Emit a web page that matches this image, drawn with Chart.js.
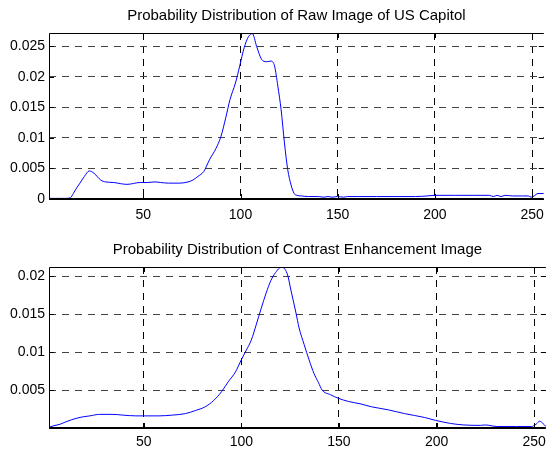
<!DOCTYPE html>
<html>
<head>
<meta charset="utf-8">
<script src="https://cdn.jsdelivr.net/npm/chart.js@4.4.1/dist/chart.umd.min.js"></script>
<style>
  html, body { margin: 0; padding: 0; background: #fff; overflow: hidden; }
  .panel { position: absolute; left: 0; width: 550px; overflow: hidden; }
  #p1 { top: 0; height: 225px; }
  #p2 { top: 225px; height: 224px; }
</style>
</head>
<body>
<div class="panel" id="p1"><canvas id="c1" width="552" height="225"></canvas></div>
<div class="panel" id="p2"><canvas id="c2" width="552" height="224"></canvas></div>
<script>
// ---- Data ----
const titleTop = "Probability Distribution of Raw Image of US Capitol";
const titleBottom = "Probability Distribution of Contrast Enhancement Image";

const xTicks = [50, 100, 150, 200, 250];
const yTicksTop = [0, 0.005, 0.01, 0.015, 0.02, 0.025];
const yTickLabelsTop = ["0", "0.005", "0.01", "0.015", "0.02", "0.025"];
const yTicksBottom = [0.005, 0.01, 0.015, 0.02];
const yTickLabelsBottom = ["0.005", "0.01", "0.015", "0.02"];

const rawX = [1.5,5,10,12.5,14,15.7,17.2,19.7,22.2,24.7,28.1,30.6,34.8,41.6,48.4,52,56,59,62.9,68.8,
  73,75.5,78.1,81.1,84,87.4,89.9,92.4,94.6,97.4,99.6,101.9,104.1,106.1,108.3,110.8,113.3,115.8,117.5,119.2,
  120.9,122.6,124.3,126,127.6,129,131.3,135,140,143,145,147,150,153,155,160,170,180,190,196,
  200,210,220,228,230,232,234,236,240,245,248,249.5,251,253,256];
const rawY = [0.0001,0.0001,0.0001,0.0002,0.0009,0.0018,0.0025,0.0037,0.0046,0.0042,0.0031,0.0028,0.0027,0.0024,0.0027,0.0027,0.0028,0.0027,0.0026,0.0026,
  0.0028,0.0031,0.0037,0.0045,0.0064,0.0083,0.0102,0.0133,0.0163,0.019,0.0218,0.0248,0.0266,0.0271,0.025,0.0229,0.0225,0.0226,0.0218,0.0185,
  0.0146,0.0092,0.0048,0.0023,0.0009,0.0006,0.0005,0.0004,0.0004,0.0003,0.0004,0.0003,0.0004,0.0003,0.0004,0.0004,0.0004,0.0004,0.0004,0.0005,
  0.0006,0.0006,0.0006,0.0006,0.0004,0.0006,0.0004,0.0006,0.0005,0.0005,0.0005,0.0003,0.0005,0.0009,0.0009];

const encX = [1.5,4,7.2,10,13.2,17.4,22.4,27.5,34.2,39.3,46,51,57.9,64.6,71.4,76.4,81.5,85.7,89.9,93.3,
  97,100,102.6,105.1,107.6,110.2,112.7,115.2,117.5,119.5,121,123.7,125.4,127.9,129.6,132.2,134.7,137.2,139.5,141.4,
  145.6,149.9,154.9,160.8,166.7,175.2,183.6,193.7,199.6,207.2,214,222.4,225,230.9,241,248.6,251,252.8,254.5,256];
const encY = [0.0001,0.0003,0.0005,0.0008,0.0011,0.0014,0.0016,0.0018,0.0018,0.0017,0.0016,0.0016,0.0016,0.0017,0.0019,0.0023,0.0028,0.0036,0.0048,0.0061,
  0.0074,0.009,0.0103,0.0116,0.0136,0.0158,0.0178,0.0195,0.0205,0.0211,0.0212,0.0202,0.0182,0.0153,0.0132,0.011,0.009,0.0072,0.006,0.005,
  0.0044,0.0039,0.0035,0.0032,0.0028,0.0024,0.0019,0.0014,0.001,0.0006,0.0004,0.00035,0.0004,0.0002,0.0002,0.0002,0.0005,0.0009,0.0006,0.0002];

const FONT = "'Liberation Sans', Arial, sans-serif";

const boxPlugin = {
  id: 'boxPlugin',
  afterDraw(chart) {
    const { ctx, chartArea: a, scales: { x, y } } = chart;
    ctx.save();
    ctx.strokeStyle = '#000';
    ctx.lineWidth = 1;
    ctx.setLineDash([]);
    ctx.beginPath();
    ctx.moveTo(a.left + 0.5, a.bottom);
    ctx.lineTo(a.left + 0.5, a.top + 0.5);
    ctx.lineTo(a.right, a.top + 0.5);
    ctx.stroke();
    ctx.lineWidth = 2;
    ctx.beginPath();
    ctx.moveTo(a.left, a.bottom);
    ctx.lineTo(a.right, a.bottom);
    ctx.stroke();
    ctx.lineWidth = 1;
    ctx.beginPath();
    x.ticks.forEach(t => {
      const px = Math.round(x.getPixelForValue(t.value)) + 0.5;
      ctx.moveTo(px, a.bottom); ctx.lineTo(px, a.bottom - 5);
      ctx.moveTo(px, a.top); ctx.lineTo(px, a.top + 5);
    });
    y.ticks.forEach(t => {
      const py = Math.round(y.getPixelForValue(t.value)) + 0.5;
      ctx.moveTo(a.left, py); ctx.lineTo(a.left + 5, py);
      ctx.moveTo(a.right, py); ctx.lineTo(a.right - 5, py);
    });
    ctx.stroke();
    ctx.restore();
  }
};

function makeChart(id, title, xs, ys, yMin, yMax, yTicks, yLabels, titlePad, xHeight, xPad) {
  const pts = xs.map((v, i) => ({ x: v, y: ys[i] }));
  return new Chart(document.getElementById(id), {
    type: 'line',
    data: { datasets: [{ data: pts, borderColor: '#0000ff', borderWidth: 1, pointRadius: 0, fill: false,
      cubicInterpolationMode: 'monotone' }] },
    options: {
      responsive: false, animation: false, devicePixelRatio: 1,
      layout: { padding: { left: 0, right: 1.5, top: 0, bottom: 0 } },
      plugins: {
        legend: { display: false }, tooltip: { enabled: false },
        title: { display: true, text: title, fullSize: false, color: '#000',
          font: { family: FONT, size: 15, weight: 'normal', lineHeight: 1.2 }, padding: titlePad }
      },
      scales: {
        x: {
          type: 'linear', min: 1.5, max: 256,
          afterBuildTicks: s => { s.ticks = xTicks.map(v => ({ value: v })); },
          afterFit: s => { s.height = xHeight; },
          ticks: { color: '#000', font: { family: FONT, size: 14 }, padding: xPad, maxRotation: 0,
            callback: v => String(v) },
          grid: { color: '#000', lineWidth: 1, drawTicks: false },
          border: { display: false, dash: [7, 6] }
        },
        y: {
          type: 'linear', min: yMin, max: yMax,
          afterBuildTicks: s => { s.ticks = yTicks.map(v => ({ value: v })); },
          afterFit: s => { s.width = 49; },
          ticks: { color: '#000', font: { family: FONT, size: 14 }, padding: 4,
            callback: v => yLabels[yTicks.indexOf(v)] },
          grid: { color: '#444', lineWidth: 1, drawTicks: false },
          border: { display: false, dash: [7, 6] }
        }
      }
    },
    plugins: [boxPlugin]
  });
}

makeChart('c1', titleTop, rawX, rawY, 0, 0.0272, yTicksTop, yTickLabelsTop, { top: 7, bottom: 8 }, 26, 8);
makeChart('c2', titleBottom, encX, encY, 0, 0.02125, yTicksBottom, yTickLabelsBottom, { top: 16, bottom: 8 }, 21, 6);
</script>
</body>
</html>
